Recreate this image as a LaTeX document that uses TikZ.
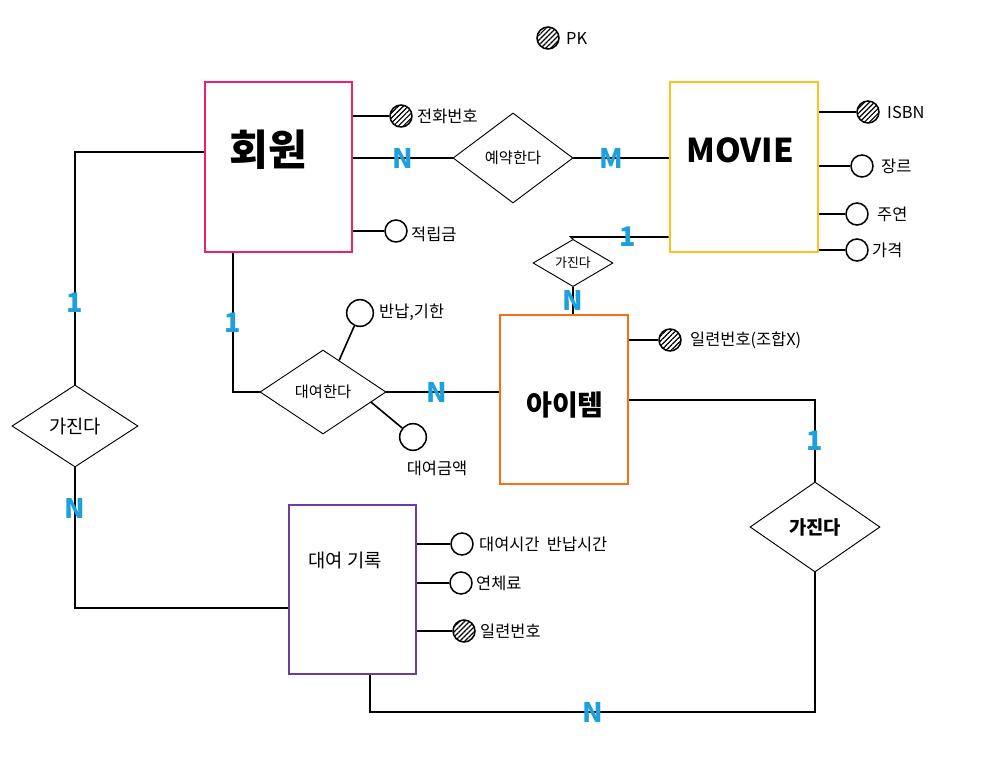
\documentclass[tikz,border=0pt]{standalone}
\usepackage{fontspec}
\setmainfont{Noto Sans CJK KR}
\usetikzlibrary{shapes.geometric,patterns.meta}
\definecolor{memberpink}{RGB}{240,30,110}
\definecolor{movieyellow}{RGB}{255,193,30}
\definecolor{itemorange}{RGB}{250,110,20}
\definecolor{recordpurple}{RGB}{110,60,160}
\definecolor{cardblue}{RGB}{30,160,220}
\tikzset{
  entity/.style={draw, line width=2.2pt, inner sep=0pt},
  rel/.style={draw, diamond, line width=0.8pt, inner sep=0pt},
  attr/.style={draw, circle, line width=1.3pt, minimum size=0.66cm, inner sep=0pt},
  pk/.style={attr, pattern={Lines[angle=45,distance=3pt,line width=1pt]}},
  attrtext/.style={anchor=west, inner sep=0pt, font=\fontsize{14}{14}\selectfont},
  card/.style={text=cardblue, inner sep=0pt, font=\bfseries\fontsize{23}{23}\selectfont},
  link/.style={line width=1.4pt}
}
\begin{document}
\begin{tikzpicture}[x=0.03cm, y=-0.03cm]
        \useasboundingbox (0,0) rectangle (982,758);

        \node[entity, draw=memberpink, minimum width=4.41cm, minimum height=5.1cm] (member) at (278.5,167) {};
        \node[entity, draw=movieyellow, minimum width=4.44cm, minimum height=5.1cm] (movie) at (744,167) {};
        \node[entity, draw=itemorange, minimum width=3.84cm, minimum height=5.07cm] (item) at (564,399.5) {};
        \node[entity, draw=recordpurple, minimum width=3.81cm, minimum height=5.07cm] (record) at (352.5,589.5) {};

        \node[font=\bfseries\fontsize{36}{36}\selectfont] (membertitle) at (268,150) {회원};
        \node[font=\bfseries\fontsize{28}{28}\selectfont] (movietitle) at (740,150) {MOVIE};
        \node[font=\bfseries\fontsize{24}{24}\selectfont] (itemtitle) at (565,405) {아이템};
        \node[font=\fontsize{16}{16}\selectfont] (recordtitle) at (345,560) {대여 기록};

        \node[rel, minimum width=3.6cm, minimum height=2.7cm, font=\fontsize{13}{13}\selectfont] (reserve) at (513,158) {예약한다};
        \node[rel, minimum width=2.4cm, minimum height=1.26cm, font=\fontsize{11}{11}\selectfont] (havemi) at (573,263) {가진다};
        \node[rel, minimum width=3.78cm, minimum height=2.52cm, font=\fontsize{13}{13}\selectfont] (rent) at (323,392) {대여한다};
        \node[rel, minimum width=3.78cm, minimum height=2.46cm, font=\fontsize{16}{16}\selectfont] (havel) at (75,426) {가진다};
        \node[rel, minimum width=3.9cm, minimum height=2.7cm, font=\bfseries\fontsize{16}{16}\selectfont] (haver) at (815,527) {가진다};

        \node[pk] (pklegend) at (548,38) {};
        \node[pk] (phone) at (401,116) {};
        \node[attr] (points) at (396,231) {};
        \node[pk] (isbn) at (868,112) {};
        \node[attr] (genre) at (862,166) {};
        \node[attr] (star) at (857,214) {};
        \node[attr] (price) at (857,250) {};
        \node[pk] (serial) at (670,340) {};
        \node[attr, minimum size=0.8cm] (due) at (360,313) {};
        \node[attr, minimum size=0.8cm] (fee) at (413,437) {};
        \node[attr] (times) at (462,544) {};
        \node[attr] (late) at (461,583) {};
        \node[pk] (rserial) at (464,631) {};

        \node[attrtext] (pktext) at (566,38) {PK};
        \node[attrtext] (phonetext) at (417,116) {전화번호};
        \node[attrtext] (pointstext) at (411,234) {적립금};
        \node[attrtext] (isbntext) at (887,112) {ISBN};
        \node[attrtext] (genretext) at (881,166) {장르};
        \node[attrtext] (startext) at (877,214) {주연};
        \node[attrtext] (pricetext) at (872,250) {가격};
        \node[attrtext] (serialtext) at (690,340) {일련번호(조합X)};
        \node[attrtext] (duetext) at (379,312) {반납,기한};
        \node[attrtext, anchor=center] (feetext) at (437,468) {대여금액};
        \node[attrtext] (timestext) at (479,544) {대여시간~~반납시간};
        \node[attrtext] (latetext) at (476,583) {연체료};
        \node[attrtext] (rserialtext) at (480,631) {일련번호};

        \coordinate (mibend) at (571,237);
        \coordinate (rentbend) at (233,392);
        \coordinate (lbend) at (75,152);
        \coordinate (lbend2) at (75,608);
        \coordinate (rbend) at (815,400);
        \coordinate (bbr) at (815,712);
        \coordinate (bbl) at (370,712);

        \draw[link] (member.east |- phone) -- (phone);
        \draw[link] (member.east |- points) -- (points);
        \draw[link] (movie.east |- isbn) -- (isbn);
        \draw[link] (movie.east |- genre) -- (genre);
        \draw[link] (movie.east |- star) -- (star);
        \draw[link] (movie.east |- price) -- (price);
        \draw[link] (item.east |- serial) -- (serial);
        \draw[link] (rent.63) -- (due);
        \draw[link] (rent.-12) -- (fee);
        \draw[link] (record.east |- times) -- (times);
        \draw[link] (record.east |- late) -- (late);
        \draw[link] (record.east |- rserial) -- (rserial);

        \draw[link] (member.east |- reserve) -- node[card] {N} (reserve.west);
        \draw[link] (reserve.east) -- node[card, pos=0.4] {M} (movie.west |- reserve);
        \draw[link] (movie.west |- mibend) -- node[card, pos=0.42] {1} (mibend) -- (havemi.north);
        \draw[link] (havemi.south) -- node[card] {N} (havemi.south |- item.north);
        \draw[link] (rentbend |- member.south) -- node[card] {1} (rentbend) -- (rent.west);
        \draw[link] (rent.east) -- node[card, pos=0.45] {N} (item.west |- rent);
        \draw[link] (member.west |- lbend) -- (lbend) -- node[card, pos=0.65] {1} (havel.north);
        \draw[link] (havel.south) -- node[card, pos=0.29] {N} (lbend2) -- (record.west |- lbend2);
        \draw[link] (item.east |- rbend) -- (rbend) -- node[card] {1} (haver.north);
        \draw[link] (haver.south) -- (bbr) -- node[card] {N} (bbl) -- (bbl |- record.south);
      \end{tikzpicture}
\end{document}
